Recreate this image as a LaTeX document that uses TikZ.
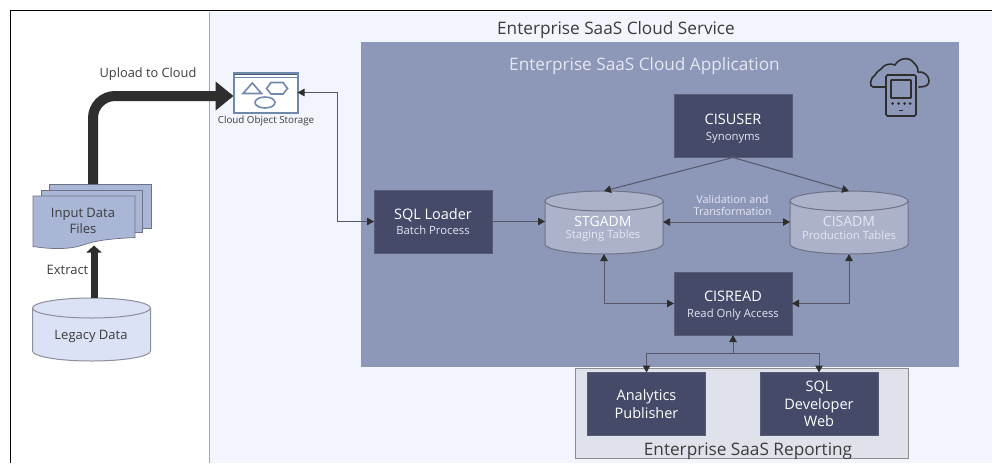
\documentclass[tikz,border=0pt]{standalone}
\usepackage{fontspec}
\setmainfont{Open Sans}
\usetikzlibrary{arrows.meta,calc}
\definecolor{panelc}{HTML}{F2F5FE}
\definecolor{appc}{HTML}{8D97B7}
\definecolor{darkc}{HTML}{444A68}
\definecolor{cylc}{HTML}{ADB2CB}
\definecolor{cylb}{HTML}{6E7286}
\definecolor{legb}{HTML}{8C8F9A}
\definecolor{repc}{HTML}{DFE2EA}
\definecolor{legc}{HTML}{DCE2F5}
\definecolor{pagec}{HTML}{AAB6D6}
\definecolor{inkc}{HTML}{3C3C3C}
\definecolor{linec}{HTML}{55566A}
\definecolor{tipc}{HTML}{2F2E2E}
\definecolor{softc}{HTML}{E4E7F2}
\definecolor{iconc}{HTML}{6F88AB}
\newcommand{\fs}[1]{\fontsize{#1pt}{\the\dimexpr#1pt*6/5\relax}\selectfont}
% \drum{name}{cx}{cy}{fill}{border}: a drum outline plus a node that carries its anchors
\newcommand{\drum}[5]{%
  \path[fill=#4,draw=#5,line width=1pt] (#2-59,#3-21.5)
    arc[start angle=180,end angle=360,x radius=59,y radius=10]
    -- (#2+59,#3+21.5)
    arc[start angle=0,end angle=180,x radius=59,y radius=10] -- cycle;
  \path[draw=#5,line width=1pt] (#2-59,#3-21.5)
    arc[start angle=180,end angle=0,x radius=59,y radius=10];
  \node[plain,minimum width=118pt,minimum height=63pt] (#1) at (#2,#3) {};
}
\tikzset{
  x=1pt,y=-1pt,
  darkbox/.style={draw=darkc!90!white,fill=darkc,text=white,minimum width=118pt,minimum height=63pt,inner sep=0pt,outer sep=0pt,align=center,font=\fs{14.5},line width=.5pt},
  link/.style={draw=linec,line width=1pt,{Triangle[length=7pt,width=7.5pt,fill=tipc,color=tipc]}-{Triangle[length=7pt,width=7.5pt,fill=tipc,color=tipc]}},
  onelink/.style={draw=linec,line width=1pt,-{Triangle[length=7pt,width=7.5pt,fill=tipc,color=tipc]}},
  plain/.style={inner sep=0pt,outer sep=0pt,align=center},
  titletext/.style={plain,text=inkc,font=\fs{17.2}},
  icon/.style={draw=iconc,line width=1.6pt},
  page/.style={draw=cylb,line width=.7pt,fill=pagec},
}
\begin{document}
\begin{tikzpicture}
\useasboundingbox (0,0) rectangle (992,463);
% frame and panels
\fill[white] (10,10) rectangle (992,463);
\draw[black,line width=1.2pt] (10.5,463) -- (10.5,10.5) -- (992,10.5);
\fill[panelc] (209,12) rectangle (992,463);
\draw[color=black!35,line width=.8pt] (209,463) -- (209,12);
\node[titletext] (svc) at (616,30.5) {Enterprise SaaS Cloud Service};
\node[plain,fill=appc,minimum width=598pt,minimum height=325pt] (app) at (660,204.5) {};
\node[plain,text=softc,font=\fs{17.2}] (apptitle) at (644.5,66.5) {Enterprise SaaS Cloud Application};
\node[plain,fill=repc,draw=black!45,line width=1pt,minimum width=333pt,minimum height=90pt] (rep) at (741.5,413) {};
\node[titletext] (reptitle) at (748,451.5) {Enterprise SaaS Reporting};
% boxes
\node[darkbox] (cisuser) at (733,126) {};
\node[plain,text=white,font=\fs{14.5}] (cisusert) at (733,128.5) {CISUSER\\[-2pt]{\fs{11.3}\color{softc}Synonyms}};
\node[darkbox] (loader) at (433,221.5) {SQL Loader\\[-2pt]{\fs{11.3}\color{softc}Batch Process}};
\node[darkbox] (cisread) at (733,303.5) {};
\node[plain,text=white,font=\fs{14.5}] (cisreadt) at (733,305.5) {CISREAD\\[-2pt]{\fs{11.3}\color{softc}Read Only Access}};
\node[darkbox] (analytics) at (646.5,404) {Analytics\\Publisher};
\node[darkbox] (sqldev) at (819,404) {SQL\\Developer\\Web};
% cylinders
\drum{stg}{604}{222.5}{cylc}{cylb}
\node[plain,text=white,font=\fs{14}] (stgt) at (603,221) {STGADM};
\node[plain,text=softc,font=\fs{11.3}] (stgs) at (603,235.5) {Staging Tables};
\drum{cisadm}{849}{222.5}{cylc}{cylb}
\node[plain,text=softc,font=\fs{14}] (cist) at (849,221) {CISADM};
\node[plain,text=softc,font=\fs{11.3}] (ciss) at (849,235) {Production Tables};
\drum{legacy}{91.5}{329.5}{legc}{legb}
\node[plain,text=inkc,font=\fs{13}] (legt) at (91,336.5) {Legacy Data};
% input files
\draw[page] (49,184.5) -- (151,184.5) -- (151,228) -- (49,228) -- cycle;
\draw[page] (41,190.5) -- (142,190.5) -- (142,232) -- (41,232) -- cycle;
\draw[page] (33,196) -- (135,196) -- (135,237.5) .. controls (105,239) and (95,241) .. (83,245) .. controls (68,250) and (50,249) .. (33,246.5) -- cycle;
\node[plain,text=inkc,font=\fs{13}] (files) at (83,220.5) {Input Data\\[.5pt]Files};
\coordinate (backtop) at (93,184);
\coordinate (filesbottom) at (94,245.5);
% storage icon
\node[plain,fill=white,draw=iconc,line width=2pt,minimum width=64pt,minimum height=40pt] (store) at (265.5,92.5) {};
\draw[draw=iconc!70!black,line width=1.3pt] (234,74.5) -- (297,74.5);
\draw[draw=iconc,line width=1.2pt] (234,77.5) -- (297,77.5);
\draw[icon] (243,93.5) -- (261.5,93.5) -- (252.3,83) -- cycle;
\draw[icon] (266.5,88.5) -- (271,82.5) -- (283,82.5) -- (287.5,88.5) -- (283,94) -- (271,94) -- cycle;
\draw[icon] (265,102.5) ellipse [x radius=10,y radius=5.5];
\node[plain,text=inkc,font=\fs{9.8}] (storelab) at (266,120.5) {Cloud Object Storage};
% labels
\node[plain,text=inkc,font=\fs{12.8}] (uplab) at (148,74) {Upload to Cloud};
\node[plain,text=inkc,font=\fs{13}] (exlab) at (67.5,270) {Extract};
\node[plain,text=softc,font=\fs{10.8}] (vallab) at (732.5,205.5) {Validation and\\[-1.5pt]Transformation};
% thick arrows
\draw[draw=tipc,line width=10pt,rounded corners=22pt,-{Triangle[length=18pt,width=28pt,color=tipc,fill=tipc]}] (backtop) -- (93,96) -- (store.west |- 0,96);
\draw[draw=tipc,line width=7pt,-{Triangle[length=7pt,width=15pt,color=tipc,fill=tipc]}] (legacy.north -| filesbottom) -- (filesbottom);
% thin connectors
\draw[link,line width=.8pt] (store.east) -- (337,92.5) -- (337,221.5) -- (loader.west);
\draw[onelink] (loader.east) -- (stg.west |- loader.east);
\draw[onelink] (cisuser.south) -- (stg.north);
\draw[onelink] (cisuser.south) -- (cisadm.north);
\draw[link] (stg.east |- 0,222) -- (cisadm.west |- 0,222);
\draw[link] (stg.south) -- (stg.south |- cisread.west) -- (cisread.west);
\draw[link] (cisadm.south) -- (cisadm.south |- cisread.east) -- (cisread.east);
\coordinate (junction) at (733,353);
\draw[onelink] (junction) -- (cisread.south);
\draw[link] (analytics.north) -- (analytics.north |- junction) -- (sqldev.north |- junction) -- (sqldev.north);
% cloud device icon
\draw[draw=tipc,line width=1.6pt,line cap=round,line join=round]
  (885,87) -- (873,87) .. controls (869,87) and (870,78) .. (875,75)
  .. controls (877,72) and (879,70) .. (881,69)
  .. controls (884,64) and (891,63) .. (895,65)
  .. controls (899,58) and (909,56) .. (914,63)
  .. controls (917,66) and (918,68) .. (918,72)
  .. controls (924,71) and (929,76) .. (929,81)
  .. controls (929,85) and (926,87) .. (919,87);
\draw[draw=tipc,line width=1.6pt,rounded corners=1.5pt] (886,75) rectangle (916,116);
\draw[draw=tipc,line width=1.6pt,rounded corners=.5pt] (891,80) rectangle (911,98);
\foreach \dx in {892.5,898.5,904.5,910}{\fill[tipc] (\dx,103.5) circle (1.5);}
\draw[draw=tipc,line width=1.6pt] (898.5,110.5) -- (903,110.5);
\end{tikzpicture}
\end{document}
